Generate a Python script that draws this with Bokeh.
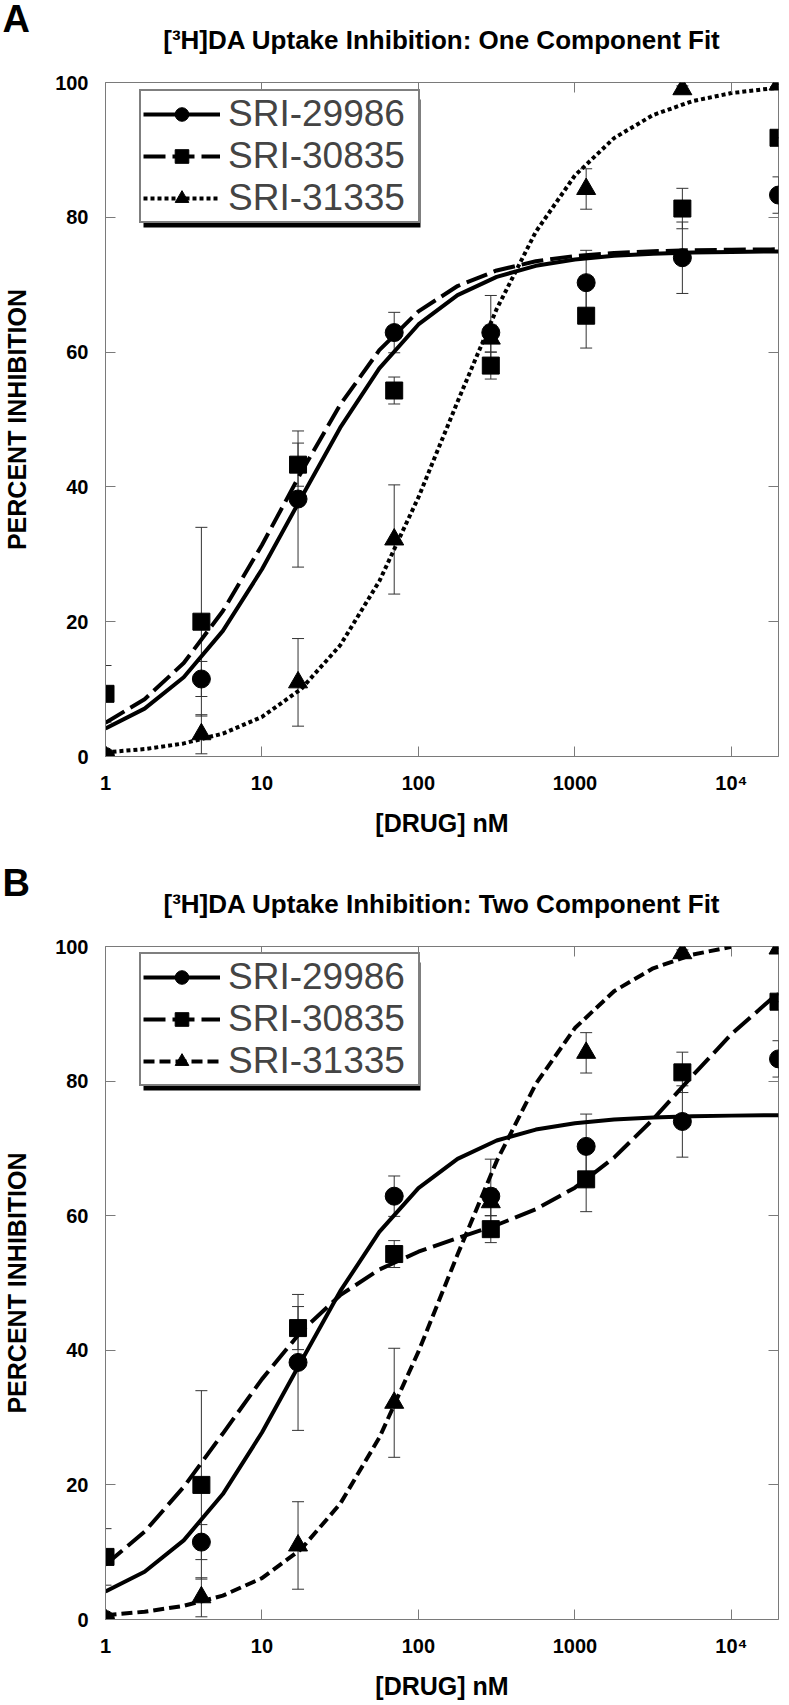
from bokeh.plotting import figure
from bokeh.models import (Range1d, FixedTicker, LogAxis, LinearAxis, Whisker, ColumnDataSource,
                          Legend, LegendItem, Title, BoxAnnotation, TeeHead)
from bokeh.layouts import column
from bokeh.embed import file_html
from bokeh.resources import INLINE

# ---------------- data ----------------
DRUG_NM = [1, 4.1, 17, 70, 290, 1180, 4860, 20000]
SERIES = ["SRI-29986", "SRI-30835", "SRI-31335"]

INH_29986 = [0.0, 11.5, 38.2, 62.9, 62.9, 70.3, 74.0, 83.3]
ERR_29986 = [0.0, 2.6, 10.1, 3.0, 5.5, 4.8, 5.3, 2.7]
INH_30835 = [9.3, 20.0, 43.3, 54.3, 58.0, 65.4, 81.3, 91.8]
ERR_30835 = [4.2, 14.0, 3.2, 2.0, 2.0, 4.8, 3.0, 0.0]
INH_31335 = [0.0, 3.3, 11.0, 32.2, 62.0, 84.2, 99.0, 99.7]
ERR_31335 = [0.0, 2.9, 6.5, 8.1, 2.0, 3.0, 0.5, 0.0]

# fitted curves at quarter-decade steps
CURVE_X = [1, 1.778, 3.162, 5.623, 10, 17.78, 31.62, 56.23, 100, 177.8, 316.2,
           562.3, 1000, 1778, 3162, 5623, 10000, 17780, 20000]
FIT1_29986 = [4.17, 7.10, 11.76, 18.64, 27.78, 38.34, 48.78, 57.59, 64.10, 68.45, 71.17,
              72.80, 73.75, 74.29, 74.60, 74.77, 74.87, 74.93, 74.94]
FIT1_30835 = [5.02, 8.49, 13.87, 21.58, 31.38, 42.13, 52.19, 60.29, 66.05, 69.80, 72.11,
              73.47, 74.26, 74.71, 74.97, 75.11, 75.19, 75.24, 75.25]
FIT1_31335 = [0.62, 1.10, 1.94, 3.40, 5.88, 10.00, 16.50, 26.01, 38.46, 52.64, 66.40,
              77.85, 86.21, 91.75, 95.18, 97.23, 98.43, 99.11, 99.21]
FIT2_29986 = FIT1_29986
FIT2_30835 = [8.15, 13.05, 19.70, 27.63, 35.72, 42.78, 48.19, 52.00, 54.65, 56.69, 58.62,
              60.95, 64.16, 68.62, 74.33, 80.76, 86.97, 92.10, 92.98]
FIT2_31335 = [0.65, 1.15, 2.03, 3.55, 6.15, 10.45, 17.20, 27.02, 39.80, 54.23, 68.11,
              79.57, 87.88, 93.36, 96.76, 98.78, 99.95]

X_TICKS = [1, 10, 100, 1000, 10000]
X_TICK_LABELS = ["1", "10", "100", "1000", "10\u2074"]
Y_TICKS = [0, 20, 40, 60, 80, 100]

SANS = "Liberation Sans"
GRAY = "#7a7a7a"


def make_panel(letter, heading, fits, dashes, height, bottom_border):
    p = figure(width=787, height=height, x_axis_type="log",
               x_range=Range1d(1, 20000), y_range=Range1d(0, 100),
               output_backend="svg", toolbar_location=None, title=None,
               min_border_left=104, min_border_right=9, min_border_top=82,
               min_border_bottom=bottom_border)
    p.xgrid.visible = False
    p.ygrid.visible = False
    p.outline_line_color = GRAY
    p.outline_line_width = 1

    p.xaxis.ticker = FixedTicker(ticks=X_TICKS)
    p.xaxis.major_label_overrides = {t: s for t, s in zip(X_TICKS, X_TICK_LABELS)}
    p.yaxis.ticker = FixedTicker(ticks=Y_TICKS)
    for ax in (p.xaxis[0], p.yaxis[0]):
        ax.axis_line_color = GRAY
        ax.major_tick_line_color = GRAY
        ax.major_tick_in = 10
        ax.major_tick_out = 0
        ax.minor_tick_line_color = None
        ax.major_label_text_font = SANS
        ax.major_label_text_font_style = "bold"
        ax.major_label_text_font_size = "20px"
        ax.major_label_text_color = "black"
        ax.axis_label_text_font = SANS
        ax.axis_label_text_font_style = "bold"
        ax.axis_label_text_color = "black"
    p.xaxis.major_label_standoff = 15
    p.yaxis.major_label_standoff = 17
    p.xaxis.axis_label = "[DRUG] nM"
    p.xaxis.axis_label_text_font_size = "25px"
    p.xaxis.axis_label_standoff = 12
    p.yaxis.axis_label = "PERCENT INHIBITION"
    p.yaxis.axis_label_text_font_size = "25px"
    p.yaxis.axis_label_standoff = 21

    # inward ticks on the top edge; its axis label carries the panel heading
    top = LogAxis(ticker=FixedTicker(ticks=X_TICKS[1:]), major_label_text_font_size="1px",
                  major_label_text_alpha=0, major_label_standoff=0,
                  major_tick_in=10, major_tick_out=0,
                  axis_line_color=None, major_tick_line_color=GRAY, minor_tick_line_color=None,
                  axis_label=heading, axis_label_text_font=SANS,
                  axis_label_text_font_style="bold", axis_label_text_font_size="26px",
                  axis_label_text_color="black", axis_label_standoff=28)
    right = LinearAxis(ticker=FixedTicker(ticks=Y_TICKS[1:-1]), major_label_text_font_size="1px",
                       major_label_text_alpha=0, major_label_standoff=0,
                       major_tick_in=10, major_tick_out=0,
                       axis_line_color=None, major_tick_line_color=GRAY, minor_tick_line_color=None)
    p.add_layout(top, "above")
    p.add_layout(right, "right")

    # panel letter, top-left corner
    p.add_layout(Title(text=letter, align="left", vertical_align="bottom", offset=-103,
                       text_font=SANS, text_font_style="bold", text_font_size="38px",
                       text_color="black", standoff=-36), "above")

    values = [INH_29986, INH_30835, INH_31335]
    errors = [ERR_29986, ERR_30835, ERR_31335]
    markers = ["circle", "square", "triangle"]
    sizes = [18, 17, 19]

    for vals, errs in zip(values, errors):
        src = ColumnDataSource(dict(x=DRUG_NM,
                                    upper=[v + e for v, e in zip(vals, errs)],
                                    lower=[v - e for v, e in zip(vals, errs)]))
        p.add_layout(Whisker(base="x", upper="upper", lower="lower", source=src,
                             line_color="#333333", line_width=1, level="underlay",
                             upper_head=TeeHead(size=12, line_color="#333333", line_width=1),
                             lower_head=TeeHead(size=12, line_color="#333333", line_width=1)))

    items = []
    for name, vals, fit, dash, mk, sz in zip(SERIES, values, fits, dashes, markers, sizes):
        lr = p.line(CURVE_X[:len(fit)], fit, line_color="black", line_width=4, line_dash=dash)
        sr = p.scatter(DRUG_NM, vals, marker=mk, size=sz, fill_color="black", line_color="black")
        items.append(LegendItem(label=name, renderers=[lr, sr]))

    # drop shadow behind the legend box (legend is 277 x 128 px, anchored at (34, 533))
    p.add_layout(BoxAnnotation(left=38, right=315, bottom=529, top=657,
                               left_units="screen", right_units="screen",
                               bottom_units="screen", top_units="screen",
                               fill_color="black", fill_alpha=1, line_color=None,
                               level="annotation"))
    legend = Legend(items=items, location=(34, 533), orientation="vertical",
                    label_text_font=SANS, label_text_font_size="37px",
                    glyph_width=77, glyph_height=34, label_standoff=8, label_width=188,
                    padding=2, spacing=0, margin=0,
                    border_line_color="black", border_line_width=2,
                    background_fill_color="white", background_fill_alpha=1)
    p.add_layout(legend, "center")
    return p


pA = make_panel("A", "[\u00b3H]DA Uptake Inhibition: One Component Fit",
                [FIT1_29986, FIT1_30835, FIT1_31335], ["solid", "22 7", "4 3"], 864, 108)
pB = make_panel("B", "[\u00b3H]DA Uptake Inhibition: Two Component Fit",
                [FIT2_29986, FIT2_30835, FIT2_31335], ["solid", "22 7", "11 5"], 838, 82)

layout = column(pA, pB, spacing=0)
open("out.html", "w").write(file_html(layout, INLINE))
